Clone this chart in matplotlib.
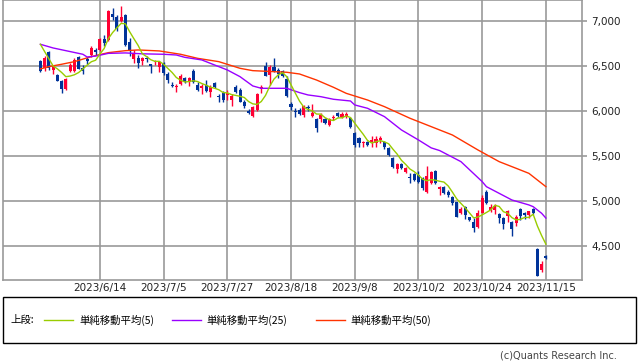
import numpy as np
import matplotlib
matplotlib.use("Agg")
import matplotlib.pyplot as plt
from matplotlib.lines import Line2D
from matplotlib.patches import Rectangle

# daily candles (yen), oldest first
open_ = [6556, 6474, 6659, 6456, 6400, 6333, 6241, 6444, 6448, 6604,
         6474, 6574, 6622, 6678, 6678, 6800, 6789, 7078, 7041, 7003,
         7067, 6770, 6578, 6593, 6559, 6585, 6519, 6541, 6492, 6530,
         6411, 6289, 6263, 6296, 6363, 6319, 6448, 6289, 6252, 6289,
         6215, 6307, 6167, 6196, 6178, 6122, 6263, 6233, 6104, 6000,
         5944, 6011, 6244, 6504, 6400, 6492, 6456, 6444, 6352, 6078,
         6000, 6011, 5956, 6048, 5948, 5908, 5911, 5911, 5844, 5926,
         5981, 5930, 5948, 5926, 5759, 5696, 5641, 5659, 5659, 5648,
         5678, 5659, 5585, 5474, 5356, 5407, 5319, 5270, 5296, 5289,
         5252, 5104, 5196, 5333, 5133, 5159, 5104, 5048, 4985, 4863,
         4937, 4826, 4763, 4707, 4870, 5096, 4900, 4900, 4852, 4807,
         4833, 4770, 4752, 4911, 4870, 4844, 4911, 4467, 4233, 4393]
high = [6567, 6611, 6667, 6511, 6411, 6344, 6370, 6530, 6586, 6611,
        6511, 6604, 6722, 6704, 6808, 6844, 7122, 7141, 7067, 7167,
        7078, 6808, 6678, 6622, 6604, 6611, 6519, 6567, 6548, 6541,
        6437, 6326, 6300, 6411, 6381, 6374, 6463, 6326, 6296, 6344,
        6289, 6326, 6189, 6226, 6233, 6189, 6289, 6252, 6122, 6022,
        6056, 6196, 6289, 6548, 6511, 6585, 6474, 6456, 6389, 6104,
        6030, 6030, 6067, 6063, 6074, 5922, 5974, 5919, 5919, 5956,
        5993, 5993, 5985, 5937, 5770, 5707, 5670, 5670, 5722, 5722,
        5722, 5670, 5604, 5493, 5426, 5419, 5374, 5307, 5315, 5337,
        5263, 5389, 5333, 5344, 5170, 5170, 5122, 5056, 4993, 4937,
        4944, 4826, 4807, 4900, 5067, 5122, 4963, 4963, 4863, 4826,
        4900, 4781, 4844, 4926, 4881, 4889, 4926, 4474, 4333, 4400]
low = [6437, 6444, 6456, 6411, 6333, 6197, 6233, 6437, 6437, 6463,
       6411, 6522, 6604, 6622, 6670, 6726, 6781, 7011, 6893, 6992,
       6726, 6611, 6530, 6481, 6511, 6548, 6419, 6511, 6437, 6400,
       6315, 6263, 6215, 6289, 6307, 6278, 6315, 6226, 6189, 6215,
       6152, 6252, 6104, 6104, 6122, 6056, 6196, 6096, 6030, 5963,
       5930, 6004, 6196, 6389, 6289, 6437, 6363, 6381, 6159, 6011,
       5930, 5956, 5937, 6000, 5930, 5763, 5874, 5852, 5833, 5900,
       5937, 5919, 5919, 5808, 5604, 5604, 5604, 5611, 5604, 5604,
       5648, 5574, 5500, 5370, 5315, 5352, 5307, 5204, 5226, 5196,
       5122, 5093, 5185, 5185, 5067, 5074, 5048, 4956, 4819, 4856,
       4800, 4778, 4659, 4696, 4863, 4963, 4881, 4852, 4759, 4685,
       4763, 4615, 4726, 4789, 4796, 4807, 4852, 4170, 4215, 4356]
close = [6444, 6586, 6474, 6500, 6337, 6241, 6352, 6511, 6567, 6463,
         6444, 6559, 6704, 6652, 6800, 6752, 7111, 7041, 6911, 7048,
         6733, 6678, 6648, 6537, 6585, 6574, 6503, 6556, 6541, 6419,
         6344, 6278, 6278, 6389, 6319, 6370, 6326, 6233, 6278, 6226,
         6263, 6263, 6152, 6122, 6204, 6170, 6215, 6104, 6056, 5981,
         6041, 6185, 6263, 6393, 6492, 6444, 6411, 6389, 6170, 6041,
         5989, 5963, 6056, 6030, 5974, 5807, 5956, 5863, 5908, 5937,
         5948, 5967, 5963, 5819, 5622, 5641, 5659, 5622, 5678, 5689,
         5700, 5596, 5511, 5381, 5411, 5363, 5363, 5259, 5233, 5215,
         5141, 5278, 5322, 5196, 5159, 5093, 5067, 4974, 4826, 4907,
         4844, 4789, 4696, 4870, 5030, 4974, 4937, 4948, 4807, 4741,
         4889, 4689, 4826, 4837, 4844, 4889, 4870, 4170, 4300, 4370]

# simple moving averages as drawn on the chart
ma5 = [6741, 6660, 6580, 6500, 6468, 6428, 6381, 6388, 6402, 6427,
       6467, 6509, 6547, 6564, 6632, 6693, 6804, 6871, 6923, 6973,
       6969, 6882, 6804, 6729, 6636, 6604, 6569, 6551, 6552, 6519,
       6473, 6428, 6372, 6342, 6322, 6327, 6336, 6327, 6305, 6287,
       6265, 6253, 6236, 6205, 6201, 6182, 6173, 6163, 6150, 6105,
       6079, 6073, 6105, 6173, 6275, 6355, 6401, 6426, 6381, 6291,
       6200, 6110, 6044, 6016, 6002, 5966, 5965, 5926, 5902, 5894,
       5922, 5925, 5945, 5927, 5864, 5802, 5741, 5673, 5644, 5658,
       5670, 5657, 5635, 5575, 5520, 5452, 5406, 5355, 5326, 5287,
       5242, 5225, 5238, 5230, 5219, 5210, 5167, 5098, 5024, 4973,
       4924, 4868, 4812, 4821, 4846, 4872, 4901, 4952, 4939, 4881,
       4864, 4815, 4790, 4796, 4817, 4817, 4853, 4722, 4615, 4520]
ma25_day = [0, 3, 7, 10, 11, 13, 16, 20, 24, 29, 32, 34, 38, 41, 44, 47, 50,
            52, 55, 58, 61, 63, 66, 69, 73, 74, 77, 81, 85, 89, 92, 94, 99,
            104, 105, 108, 111, 115, 116, 118, 119]
ma25_val = [6741, 6700, 6660, 6630, 6600, 6610, 6640, 6645, 6635, 6630, 6622,
            6596, 6567, 6511, 6456, 6381, 6278, 6252, 6252, 6252, 6204, 6178,
            6159, 6130, 6111, 6067, 6030, 5937, 5789, 5678, 5590, 5560, 5437,
            5215, 5159, 5085, 5011, 4956, 4937, 4863, 4810]
ma50_day = [0, 2, 5, 8, 12, 16, 20, 23, 28, 33, 37, 42, 47, 50, 55, 58, 61,
            65, 69, 72, 77, 81, 87, 92, 97, 103, 108, 112, 115, 119]
ma50_val = [6467, 6493, 6519, 6548, 6604, 6648, 6670, 6678, 6667, 6630, 6585,
            6548, 6474, 6448, 6437, 6430, 6411, 6344, 6263, 6196, 6122, 6048,
            5919, 5826, 5733, 5567, 5437, 5363, 5307, 5159]

date_labels = ["2023/6/14", "2023/7/5", "2023/7/27", "2023/8/18",
               "2023/9/8", "2023/10/2", "2023/10/24", "2023/11/15"]
price_ticks = [4500, 5000, 5500, 6000, 6500, 7000]

RED = "#ff0033"
BLUE = "#003399"
GRID = "#999999"

plt.rcParams['font.family'] = ['DejaVu Sans', 'Noto Sans CJK JP']

W, H = 638, 362
fig = plt.figure(figsize=(W / 100, H / 100), dpi=100)
ax = fig.add_axes([3 / W, 1 - 280 / H, 579 / W, 280 / H])

o = np.array(open_, float)
c = np.array(close, float)
x = np.arange(len(c))
cols = np.where(c >= o, RED, BLUE)

ax.vlines(x, low, high, colors=cols, lw=1, zorder=3)
ax.bar(x, np.maximum(np.abs(c - o), 12), bottom=np.minimum(o, c),
       width=0.72, color=cols, lw=0, zorder=4)

ax.plot(ma50_day, ma50_val, color="#ff3300", lw=1, zorder=5)
ax.plot(ma25_day, ma25_val, color="#9900ff", lw=1, zorder=5)
ax.plot(x, ma5, color="#99cc00", lw=1, zorder=5)

# one gridline every 15 sessions, the last one on the newest candle
step = 15
first = len(c) - 1 - step * (len(date_labels) - 1)
ax.set_xticks([first + step * k for k in range(len(date_labels))])
ax.set_xticklabels(date_labels)
ax.set_yticks(price_ticks)
ax.set_yticklabels(["{:,}".format(v) for v in price_ticks])
ax.yaxis.tick_right()

ax.set_xlim(-8.8, 127.5)
ax.set_ylim(4122, 7233)
ax.grid(True, color=GRID, lw=1.2, zorder=0)
ax.set_axisbelow(True)
for s in ax.spines.values():
    s.set_color(GRID)
    s.set_linewidth(1.2)
ax.tick_params(axis="y", length=3.5, width=1.2, color=GRID, pad=3,
               labelsize=7.5, labelcolor="#222222")
ax.tick_params(axis="x", length=0, pad=2.5, labelsize=7.5,
               labelcolor="#222222")

# legend box under the chart
fig.add_artist(Rectangle((3 / W, 1 - 343 / H), 633 / W, 46 / H,
                         transform=fig.transFigure, fill=False,
                         ec="black", lw=1))
ly = 1 - 320 / H
fig.text(10 / W, ly, "上段:", fontsize=7.5, va="center",
         family=["Noto Sans CJK JP"])
legend = [("#99cc00", "単純移動平均(5)", 44, 79),
          ("#9900ff", "単純移動平均(25)", 172, 206),
          ("#ff3300", "単純移動平均(50)", 316, 350)]
for col, label, x0, tx in legend:
    fig.add_artist(Line2D([x0 / W, (x0 + 29) / W], [ly, ly],
                          transform=fig.transFigure, color=col, lw=1))
    fig.text(tx / W, ly, label, fontsize=7.5, va="center",
             family=["Noto Sans CJK JP", "DejaVu Sans"])

fig.text(617 / W, 1 - 356 / H, "(c)Quants Research Inc.", ha="right",
         va="center", fontsize=7, color="#444444")

fig.savefig("out.png", dpi=100)
